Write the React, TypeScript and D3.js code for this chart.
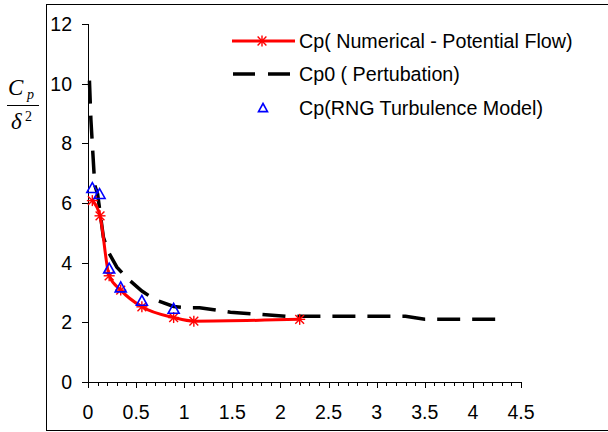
import React from "react";
import * as d3 from "d3";

const numX = [0.045, 0.125, 0.22, 0.34, 0.56, 0.89, 1.1, 2.2];
const numY = [6.08, 5.57, 3.56, 3.08, 2.52, 2.16, 2.04, 2.1];

const cp0X = [0.015, 0.03, 0.05, 0.07, 0.1, 0.16, 0.21, 0.3, 0.4, 0.56, 0.7, 0.89, 1.03, 1.16, 1.48, 2.07, 2.2, 3.3, 3.5, 4.3];
const cp0Y = [10.1, 8.8, 7.7, 6.6, 6.3, 4.85, 4.37, 3.85, 3.5, 3.05, 2.75, 2.53, 2.49, 2.49, 2.34, 2.2, 2.2, 2.2, 2.1, 2.1];

const rngX = [0.045, 0.12, 0.22, 0.34, 0.56, 0.89];
const rngY = [6.5, 6.3, 3.8, 3.17, 2.72, 2.45];

const xTicks = [0, 0.5, 1, 1.5, 2, 2.5, 3, 3.5, 4, 4.5];
const yTicks = [0, 2, 4, 6, 8, 10, 12];

const legendLabels = [
  "Cp( Numerical - Potential Flow)",
  "Cp0 ( Pertubation)",
  "Cp(RNG Turbulence Model)",
];

const x = d3.scaleLinear().domain([0, 4.5]).range([88, 521]);
const y = d3.scaleLinear().domain([0, 12]).range([382, 24]);

const font = "'Liberation Sans', Arial, sans-serif";

function Star({ cx, cy, r = 5.5 }: { cx: number; cy: number; r?: number }) {
  const d = r * 0.8;
  return (
    <g stroke="#ff0000" strokeWidth={1.4}>
      <line x1={cx} y1={cy - r} x2={cx} y2={cy + r} />
      <line x1={cx - d} y1={cy - d} x2={cx + d} y2={cy + d} />
      <line x1={cx - d} y1={cy + d} x2={cx + d} y2={cy - d} />
      <line x1={cx - r} y1={cy} x2={cx + r} y2={cy} />
    </g>
  );
}

function Tri({ cx, cy, s = 5.5 }: { cx: number; cy: number; s?: number }) {
  const p = `${cx},${cy - s} ${cx + s},${cy + s * 0.8} ${cx - s},${cy + s * 0.8}`;
  return <polygon points={p} fill="none" stroke="#0000ff" strokeWidth={1.6} />;
}

export default function App() {
  const line = d3.line<[number, number]>().x((d) => x(d[0])).y((d) => y(d[1]));
  const numCurve = d3
    .line<[number, number]>()
    .x((d) => x(d[0]))
    .y((d) => y(d[1]))
    .curve(d3.curveMonotoneX)(numX.map((v, i) => [v, numY[i]]) as [number, number][]) || "";
  const cp0Path = line(cp0X.map((v, i) => [v, cp0Y[i]]) as [number, number][]) || "";
  const minor = d3.range(0, 45).map((i) => i * 0.1);

  return (
    <svg width={608} height={432} style={{ position: "absolute", left: 0, top: 0 }}>
      <rect x={0} y={0} width={608} height={432} fill="#fff" />
      <rect x={46.5} y={4.5} width={600} height={426} fill="none" stroke="#000" strokeWidth={1} />
      {/* axes */}
      <line x1={88.5} y1={y(12)} x2={88.5} y2={382.5} stroke="#000" />
      <line x1={88} y1={382.5} x2={521.5} y2={382.5} stroke="#000" />
      {yTicks.map((t) => (
        <g key={t}>
          <line x1={82} x2={88} y1={Math.round(y(t)) + 0.5} y2={Math.round(y(t)) + 0.5} stroke="#000" />
          <text x={72} y={y(t) + 7} textAnchor="end" fontFamily={font} fontSize={19.5} fill="#000">
            {t}
          </text>
        </g>
      ))}
      {minor.map((t, i) => (
        <line key={i} x1={Math.round(x(t)) + 0.5} x2={Math.round(x(t)) + 0.5} y1={382} y2={386} stroke="#000" />
      ))}
      {xTicks.map((t) => (
        <g key={t}>
          <line x1={Math.round(x(t)) + 0.5} x2={Math.round(x(t)) + 0.5} y1={382} y2={388} stroke="#000" />
          <text x={x(t)} y={418.5} textAnchor="middle" fontFamily={font} fontSize={19.5} fill="#000">
            {t}
          </text>
        </g>
      ))}
      {/* y label */}
      <g fontFamily="'Liberation Serif', 'Times New Roman', serif" fontStyle="italic" fill="#000">
        <text x={8} y={95} fontSize={23}>C</text>
        <text x={27} y={99} fontSize={14}>p</text>
        <line x1={7} x2={39} y1={105.5} y2={105.5} stroke="#000" strokeWidth={1} />
        <text x={11} y={129} fontSize={23}>δ</text>
        <text x={25} y={121} fontSize={14} fontStyle="normal">2</text>
      </g>
      {/* series */}
      <path d={cp0Path} fill="none" stroke="#000" strokeWidth={3.5} strokeDasharray="23,12" />
      <path d={numCurve} fill="none" stroke="#ff0000" strokeWidth={3} />
      {numX.map((v, i) => (
        <Star key={i} cx={x(v)} cy={y(numY[i])} />
      ))}
      {rngX.map((v, i) => (
        <Tri key={i} cx={x(v)} cy={y(rngY[i])} />
      ))}
      {/* legend */}
      <g fontFamily={font} fontSize={19.7} fill="#000">
        <line x1={232} x2={295} y1={41} y2={41} stroke="#ff0000" strokeWidth={3} />
        <Star cx={262} cy={41} />
        <text x={299} y={48}>{legendLabels[0]}</text>
        <line x1={233} x2={291} y1={74} y2={74} stroke="#000" strokeWidth={3.5} strokeDasharray="22,13" />
        <text x={299} y={81}>{legendLabels[1]}</text>
        <Tri cx={263} cy={108} s={4.5} />
        <text x={299} y={115}>{legendLabels[2]}</text>
      </g>
    </svg>
  );
}
